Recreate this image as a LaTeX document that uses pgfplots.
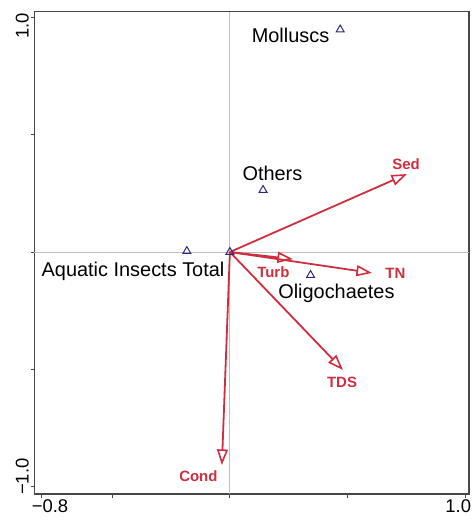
\documentclass[border=0pt]{standalone}
\usepackage{fontspec}
\setmainfont{Liberation Sans}
\usepackage{pgfplots}
\pgfplotsset{compat=1.18}
\usetikzlibrary{arrows.meta}

\definecolor{envred}{RGB}{208,46,62}
\definecolor{sppnavy}{RGB}{44,40,124}
\definecolor{axisgray}{RGB}{70,70,70}
\definecolor{zerogray}{RGB}{190,190,190}

% species scores
\pgfplotstableread{
x y
0.469 0.947
0.141 0.264
-0.183 0.004
0.000 0.000
0.343 -0.098
}\species

\pgfplotsset{vec/.style={envred, solid, line width=1.8bp, no marks,
  -{Triangle[open, length=15.5bp, width=11bp, line width=1.6bp]}}}

\begin{document}
\begin{tikzpicture}
\begin{axis}[
  name=ax,
  scale only axis,
  width=434.7bp, height=482.5bp,
  xmin=-0.831, xmax=1.017,
  ymin=-1.03, ymax=1.023,
  axis line style={axisgray, line width=1.2bp},
  tick style={axisgray, line width=1bp},
  major tick length=3.5bp,
  tick align=outside,
  tick pos=left,
  xtick={-0.8,-0.5,0,0.5,1.0},
  xticklabels={\rlap{\kern-10bp −0.8},,,,\llap{1.0\kern-6bp}},
  ytick={-1.0,-0.5,0,0.5,1.0},
  yticklabels={\rlap{\kern-8bp −1.0},,,,\llap{1.0\kern-4bp}},
  yticklabel style={rotate=90, anchor=south, inner sep=2bp},
  xticklabel style={anchor=north, inner sep=2bp},
  ticklabel style={font=\fontsize{18.5}{20}\selectfont},
  clip=false,
]
% zero lines
\draw[zerogray, line width=0.9bp] (axis cs:0,-1.03) -- (axis cs:0,1.023);
\draw[zerogray, line width=0.9bp] (axis cs:-0.831,0) -- (axis cs:1.017,0);

% environmental vectors
\addplot[vec] coordinates {(0,0) (0.753,0.332)};
\addplot[vec] coordinates {(0,0) (0.268,-0.030)};
\addplot[vec] coordinates {(0,0) (0.604,-0.089)};
\addplot[vec] coordinates {(0,0) (0.481,-0.502)};
\addplot[vec] coordinates {(0,0) (-0.034,-0.906)};

% species points
\addplot[only marks, mark=triangle, mark size=4.5bp, sppnavy,
  mark options={line width=1bp, solid}] table[x=x, y=y] {\species};

% vector labels
\begin{scope}[every node/.style={envred, font=\fontsize{15}{16}\selectfont\bfseries}]
\node at (axis cs:0.749,0.374) {Sed};
\node at (axis cs:0.704,-0.089) {TN};
\node at (axis cs:0.185,-0.084) {Turb};
\node at (axis cs:0.477,-0.553) {TDS};
\node at (axis cs:-0.134,-0.955) {Cond};
\end{scope}

% species labels
\begin{scope}[every node/.style={black, font=\fontsize{20}{22}\selectfont}]
\node at (axis cs:0.258,0.923) {Molluscs};
\node at (axis cs:0.181,0.336) {Others};
\node at (axis cs:-0.412,-0.081) {Aquatic Insects Total};
\node at (axis cs:0.453,-0.174) {Oligochaetes};
\end{scope}
\end{axis}
\pgfresetboundingbox
\path ([shift={(-34.5bp,-27bp)}]ax.south west) rectangle ([shift={(3bp,11.7bp)}]ax.north east);
\end{tikzpicture}
\end{document}
